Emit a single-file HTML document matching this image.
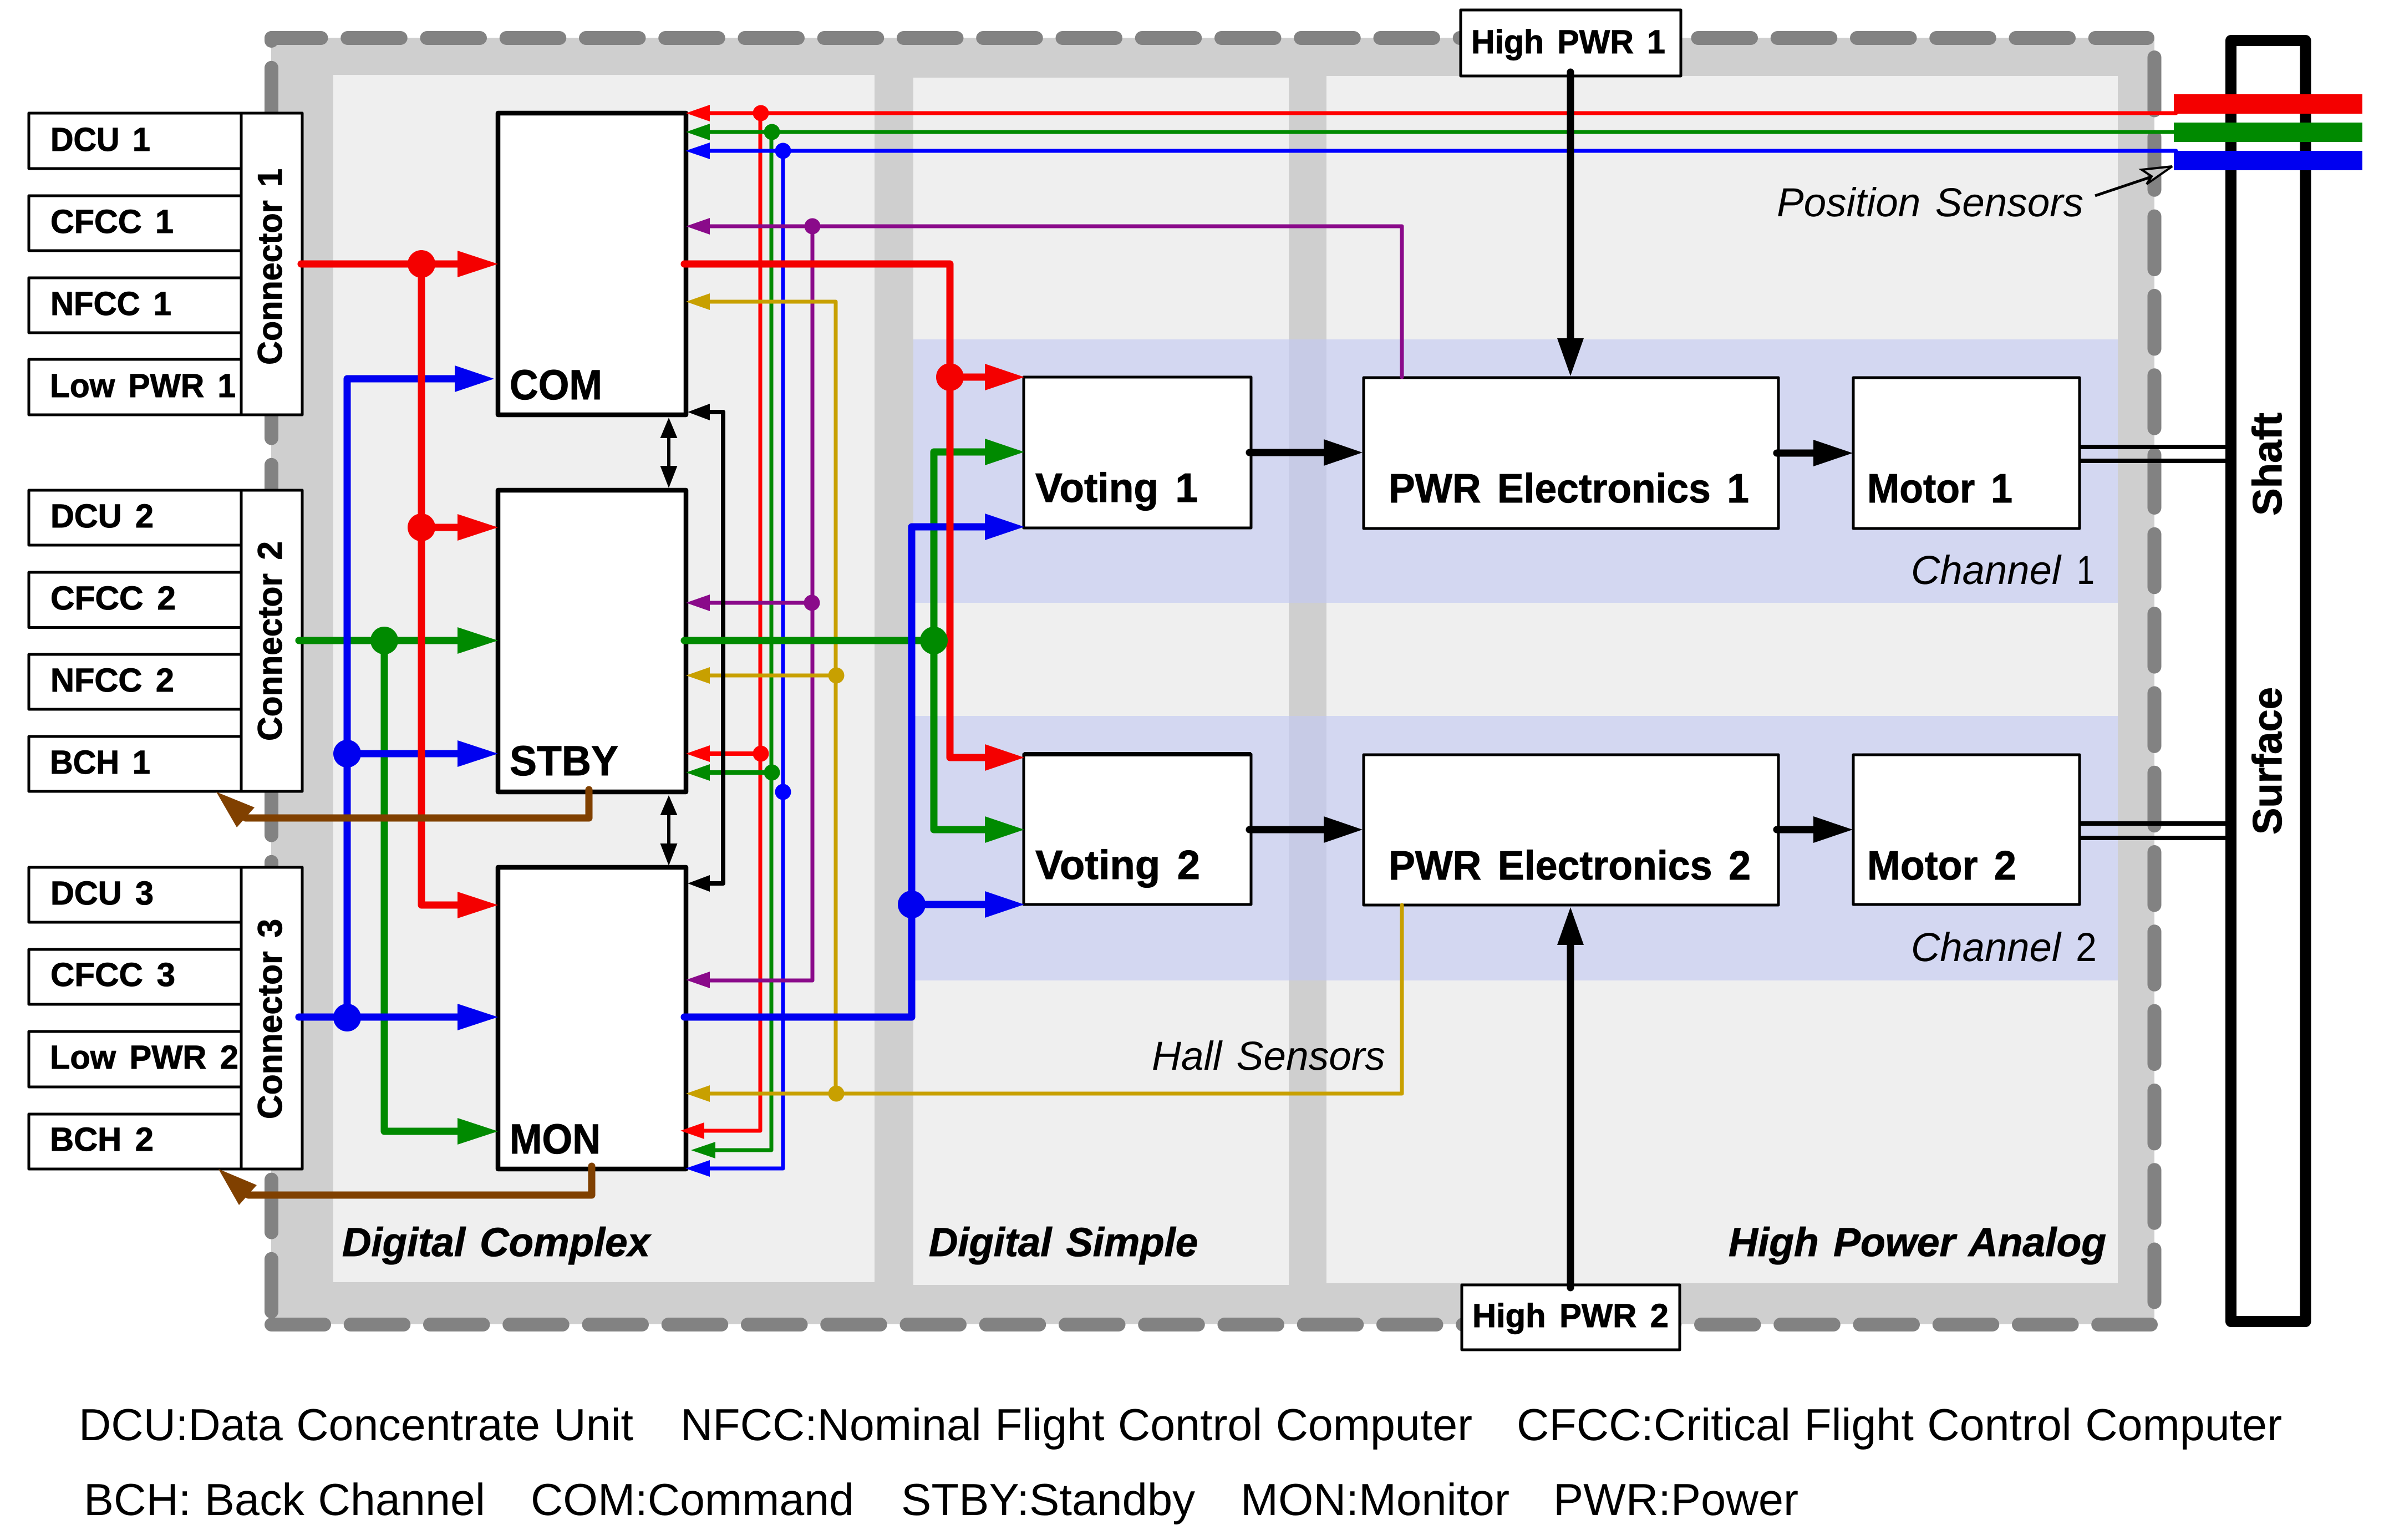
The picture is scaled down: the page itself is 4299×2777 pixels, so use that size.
<!DOCTYPE html>
<html><head><meta charset="utf-8"><title>Flight control actuator diagram</title>
<style>
html,body{margin:0;padding:0;background:#fff}
svg{display:block}
text{font-family:"Liberation Sans",Arial,sans-serif;fill:#000;text-rendering:geometricPrecision}
.b{font-weight:bold;font-size:60px;word-spacing:8px;stroke:#000;stroke-width:1px}
.m{font-weight:bold;font-size:74px;word-spacing:10px;stroke:#000;stroke-width:1px}
.r{font-weight:bold;font-size:62px;word-spacing:8px;stroke:#000;stroke-width:1px}
.i{font-style:italic;font-size:73px;word-spacing:6px}
.u{font-size:73px}
.z{font-style:italic;font-weight:bold;font-size:73px;word-spacing:6px;stroke:#000;stroke-width:1px}
.l{font-size:81px;word-spacing:2px}
</style></head><body>
<svg xmlns="http://www.w3.org/2000/svg" width="4299" height="2777" viewBox="0 0 4299 2777">
<rect width="4299" height="2777" fill="#fff"/>
<!-- backgrounds -->
<rect x="489" y="68" width="3396" height="2320" fill="#cfcfcf"/>
<rect x="601" y="135" width="976" height="2177" fill="#efefef"/>
<rect x="1647" y="140" width="677" height="2177" fill="#efefef"/>
<rect x="2392" y="137" width="1427" height="2177" fill="#efefef"/>
<rect x="1647" y="612" width="2172" height="475" fill="#d3d7f1"/>
<rect x="1647" y="1291" width="2172" height="477" fill="#d3d7f1"/>
<rect x="2324" y="612" width="68" height="475" fill="#c7cbe6"/>
<rect x="2324" y="1291" width="68" height="477" fill="#c7cbe6"/>
<!-- dashed border -->
<g stroke="#828282" stroke-width="25" stroke-linecap="round" fill="none">
<line x1="489.5" y1="68.5" x2="3872.5" y2="68.5" stroke-dasharray="95.5 47.75" stroke-dashoffset="6"/>
<line x1="489.5" y1="2388.5" x2="3878.5" y2="2388.5" stroke-dasharray="95.5 47.75" stroke-dashoffset="0.5"/>
<line x1="489.5" y1="68.5" x2="489.5" y2="73.5"/>
<line x1="489.5" y1="122.3" x2="489.5" y2="2365" stroke-dasharray="95 48.2"/>
<line x1="3885" y1="103.5" x2="3885" y2="2348" stroke-dasharray="95.5 47.8"/>
</g>
<!-- shaft -->
<rect x="4023" y="73" width="134.5" height="2310" fill="#fff" stroke="#000" stroke-width="20" stroke-linejoin="round"/>
<!-- boxes -->
<g fill="#fff" stroke="#000" stroke-width="5" stroke-linejoin="round">
<rect x="52" y="204" width="383" height="100"/><rect x="52" y="353" width="383" height="99"/><rect x="52" y="501" width="383" height="99"/><rect x="52" y="648" width="383" height="100"/>
<rect x="52" y="884" width="383" height="99"/><rect x="52" y="1032" width="383" height="99.5"/><rect x="52" y="1180" width="383" height="99"/><rect x="52" y="1328" width="383" height="99"/>
<rect x="52" y="1564" width="383" height="99"/><rect x="52" y="1712" width="383" height="99"/><rect x="52" y="1860" width="383" height="100"/><rect x="52" y="2009" width="383" height="99"/>
<rect x="435" y="204" width="110" height="544"/><rect x="435" y="884" width="110" height="543"/><rect x="435" y="1564" width="110" height="544"/>
<rect x="1846" y="680" width="410" height="272"/><rect x="1846" y="1360" width="410" height="271"/>
<rect x="2459" y="681" width="748" height="272"/><rect x="2459" y="1361" width="748" height="271"/>
<rect x="3342" y="681" width="408" height="272"/><rect x="3342" y="1361" width="408" height="270"/>
<rect x="2634" y="18" width="397" height="119"/><rect x="2636" y="2317" width="393" height="117"/>
</g>
<g fill="#fff" stroke="#000" stroke-width="8.5" stroke-linejoin="round">
<rect x="898" y="204" width="339" height="544"/><rect x="898" y="884" width="339" height="544"/><rect x="898" y="1564" width="339" height="544"/>
</g>
<line x1="1846" y1="1360" x2="2256" y2="1360" stroke="#000" stroke-width="8"/>
<!-- motor to shaft -->
<g stroke="#000" stroke-width="8" fill="none">
<line x1="3750" y1="806" x2="4013" y2="806"/>
<line x1="3750" y1="831" x2="4013" y2="831"/>
<line x1="3750" y1="1485" x2="4013" y2="1485"/>
<line x1="3750" y1="1511" x2="4013" y2="1511"/>
</g>
<!-- thin lines -->
<g fill="none" stroke-width="7" stroke-linejoin="round" stroke-linecap="round">
<path d="M1270 2039H1371V204M1280 204H3924" stroke="#ff0000"/>
<path d="M1290 2074H1391V238M1280 238H3924" stroke="#008a00"/>
<path d="M1280 2107H1412V272M1280 272H3924" stroke="#0000ff"/>
<path d="M1280 408H2528V680M1465 408V1768H1280M1280 1087H1465" stroke="#8a0a8a"/>
<path d="M1280 544H1507V1972M1280 1218H1507M1280 1972H2528V1632" stroke="#c8a000"/>
<path d="M1280 1359H1371" stroke-width="8" stroke="#ff0000"/>
<path d="M1280 1393H1391" stroke-width="8" stroke="#008a00"/>
<path d="M1280 743H1304V1593H1280" stroke="#000" stroke-width="8"/>
<path d="M1206 785V845M1206 1465V1525" stroke="#000" stroke-width="6"/>
</g>
<!-- left arrowheads -->
<g fill="#ff0000"><polygon points="1237,204 1280,189 1280,219"/><polygon points="1237,1359 1280,1344 1280,1374"/><polygon points="1227,2039 1270,2024 1270,2054"/></g>
<g fill="#008a00"><polygon points="1237,238 1280,223 1280,253"/><polygon points="1237,1393 1280,1378 1280,1408"/><polygon points="1246,2074 1290,2059 1290,2089"/></g>
<g fill="#0000ff"><polygon points="1236,272 1280,257 1280,287"/><polygon points="1236,2107 1280,2092 1280,2122"/></g>
<g fill="#8a0a8a"><polygon points="1237,408 1280,393 1280,423"/><polygon points="1237,1087 1280,1072 1280,1102"/><polygon points="1237,1767 1280,1752 1280,1782"/></g>
<g fill="#c8a000"><polygon points="1237,544 1280,529 1280,559"/><polygon points="1237,1218 1280,1203 1280,1233"/><polygon points="1237,1972 1280,1957 1280,1987"/></g>
<g fill="#000"><polygon points="1240,743 1280,728 1280,758"/><polygon points="1240,1593 1280,1578 1280,1608"/>
<polygon points="1206,753 1190.5,790 1221.5,790"/><polygon points="1206,880 1190.5,840 1221.5,840"/>
<polygon points="1206,1434 1190.5,1470 1221.5,1470"/><polygon points="1206,1561 1190.5,1521 1221.5,1521"/></g>
<!-- dots -->
<g fill="#ff0000"><circle cx="1372" cy="204" r="14.5"/><circle cx="1372" cy="1359" r="14.5"/></g>
<g fill="#008a00"><circle cx="1392" cy="238" r="14.5"/><circle cx="1392" cy="1393" r="14.5"/></g>
<g fill="#0000ff"><circle cx="1412" cy="272" r="14.5"/><circle cx="1412" cy="1428" r="14.5"/></g>
<g fill="#8a0a8a"><circle cx="1465" cy="408" r="14.5"/><circle cx="1464" cy="1087" r="14.5"/></g>
<g fill="#c8a000"><circle cx="1508" cy="1218" r="14.5"/><circle cx="1508" cy="1972" r="14.5"/></g>
<!-- thick lines -->
<g fill="none" stroke-width="13" stroke-linejoin="round" stroke-linecap="round">
<path d="M539 1155H830M693 1155V2040H830" stroke="#008a00"/>
<path d="M1234 1155H1684M1684 815V1496M1684 815H1780M1684 1496H1780" stroke="#008a00"/>
<path d="M1234 1834H1644V950H1780M1644 1631H1780" stroke="#0000f0"/>
<path d="M830 683H626V1834M626 1359H830M539 1834H830" stroke="#0000f0"/>
<path d="M543 476H830M760 476V1632H830M760 951H830" stroke="#f40000"/>
<path d="M1234 476H1713V1366H1780M1713 680H1780" stroke="#f40000"/>
<path d="M1062 1424V1475H443" stroke="#804000"/>
<path d="M1067 2103V2155H448" stroke="#804000"/>
<path d="M2253 816H2395M2253 1496H2395M3204 817H3275M3204 1496H3275" stroke="#000"/>
<path d="M2832 130V615M2832 1700V2322" stroke="#000"/>
</g>
<!-- thick arrowheads -->
<g fill="#f40000"><polygon points="898,476 825,452 825,500"/><polygon points="898,951 825,927 825,975"/><polygon points="898,1632 825,1608 825,1656"/><polygon points="1847,680 1776,656 1776,704"/><polygon points="1847,1366 1776,1342 1776,1390"/>
<circle cx="760" cy="476" r="25"/><circle cx="760" cy="951" r="25"/><circle cx="1713" cy="680" r="25"/></g>
<g fill="#0000f0"><polygon points="891,683 820,659 820,707"/><polygon points="898,1359 825,1335 825,1383"/><polygon points="898,1834 825,1810 825,1858"/><polygon points="1847,950 1776,926 1776,974"/><polygon points="1847,1631 1776,1607 1776,1655"/>
<circle cx="626" cy="1359" r="25"/><circle cx="626" cy="1835" r="25"/><circle cx="1644" cy="1631" r="25"/></g>
<g fill="#008a00"><polygon points="898,1155 825,1131 825,1179"/><polygon points="898,2040 825,2016 825,2064"/><polygon points="1847,815 1776,791 1776,839"/><polygon points="1847,1496 1776,1472 1776,1520"/>
<circle cx="693" cy="1155" r="25"/><circle cx="1684" cy="1155" r="25"/></g>
<g fill="#804000"><polygon points="390,1428 459,1456 427,1492"/><polygon points="394,2108 463,2137 431,2173"/></g>
<g fill="#000"><polygon points="2457,816 2387,792 2387,840"/><polygon points="2457,1496 2387,1472 2387,1520"/><polygon points="3341,817 3270,793 3270,841"/><polygon points="3341,1496 3270,1472 3270,1520"/>
<polygon points="2832,678 2808,610 2856,610"/><polygon points="2832,1636 2808,1704 2856,1704"/></g>
<!-- position sensor bars -->
<rect x="3920" y="170" width="340" height="35" fill="#f40000"/>
<rect x="3920" y="221" width="340" height="35" fill="#008a00"/>
<rect x="3920" y="272" width="340" height="35" fill="#0000f0"/>
<!-- position arrow -->
<line x1="3778" y1="353" x2="3885" y2="317" stroke="#000" stroke-width="5"/>
<polygon points="3917,300 3862,306 3880,318 3871,332" fill="#c8c8c8" stroke="#000" stroke-width="4"/>
<!-- text -->
<text class="b" x="91" y="272" textLength="180" lengthAdjust="spacingAndGlyphs">DCU 1</text>
<text class="b" x="91" y="420" textLength="222" lengthAdjust="spacingAndGlyphs">CFCC 1</text>
<text class="b" x="91" y="568" textLength="218" lengthAdjust="spacingAndGlyphs">NFCC 1</text>
<text class="b" x="90" y="716" textLength="335" lengthAdjust="spacingAndGlyphs">Low PWR 1</text>
<text class="b" x="91" y="951" textLength="186" lengthAdjust="spacingAndGlyphs">DCU 2</text>
<text class="b" x="91" y="1099" textLength="226" lengthAdjust="spacingAndGlyphs">CFCC 2</text>
<text class="b" x="91" y="1247" textLength="223" lengthAdjust="spacingAndGlyphs">NFCC 2</text>
<text class="b" x="90" y="1395" textLength="181" lengthAdjust="spacingAndGlyphs">BCH 1</text>
<text class="b" x="91" y="1631" textLength="186" lengthAdjust="spacingAndGlyphs">DCU 3</text>
<text class="b" x="91" y="1778" textLength="225" lengthAdjust="spacingAndGlyphs">CFCC 3</text>
<text class="b" x="90" y="1927" textLength="340" lengthAdjust="spacingAndGlyphs">Low PWR 2</text>
<text class="b" x="90" y="2075" textLength="187" lengthAdjust="spacingAndGlyphs">BCH 2</text>
<text class="r" transform="translate(508,658) rotate(-90)" textLength="354" lengthAdjust="spacingAndGlyphs">Connector 1</text>
<text class="r" transform="translate(508,1336) rotate(-90)" textLength="360" lengthAdjust="spacingAndGlyphs">Connector 2</text>
<text class="r" transform="translate(508,2018) rotate(-90)" textLength="361" lengthAdjust="spacingAndGlyphs">Connector 3</text>
<text class="m" x="919" y="720" style="font-size:76px" textLength="167" lengthAdjust="spacingAndGlyphs">COM</text>
<text class="m" x="919" y="1398" style="font-size:76px" textLength="196" lengthAdjust="spacingAndGlyphs">STBY</text>
<text class="m" x="919" y="2080" style="font-size:76px" textLength="164" lengthAdjust="spacingAndGlyphs">MON</text>
<text class="m" x="1867" y="905" textLength="293" lengthAdjust="spacingAndGlyphs">Voting 1</text>
<text class="m" x="1867" y="1585" textLength="297" lengthAdjust="spacingAndGlyphs">Voting 2</text>
<text class="m" x="2504" y="906" textLength="650" lengthAdjust="spacingAndGlyphs">PWR Electronics 1</text>
<text class="m" x="2504" y="1586" textLength="653" lengthAdjust="spacingAndGlyphs">PWR Electronics 2</text>
<text class="m" x="3367" y="906" textLength="262" lengthAdjust="spacingAndGlyphs">Motor 1</text>
<text class="m" x="3367" y="1586" textLength="269" lengthAdjust="spacingAndGlyphs">Motor 2</text>
<text class="b" x="2653" y="96" textLength="350" lengthAdjust="spacingAndGlyphs">High PWR 1</text>
<text class="b" x="2655" y="2393" textLength="354" lengthAdjust="spacingAndGlyphs">High PWR 2</text>
<text class="i" x="3204" y="390" textLength="553" lengthAdjust="spacingAndGlyphs">Position Sensors</text>
<text class="i" x="2077" y="1929" textLength="421" lengthAdjust="spacingAndGlyphs">Hall Sensors</text>
<text class="i" x="3446" y="1053" textLength="270" lengthAdjust="spacingAndGlyphs">Channel</text>
<text class="u" x="3745" y="1053" textLength="32" lengthAdjust="spacingAndGlyphs">1</text>
<text class="i" x="3446" y="1733" textLength="270" lengthAdjust="spacingAndGlyphs">Channel</text>
<text class="u" x="3743" y="1733" textLength="38" lengthAdjust="spacingAndGlyphs">2</text>
<text class="z" x="617" y="2265" textLength="555" lengthAdjust="spacingAndGlyphs">Digital Complex</text>
<text class="z" x="1675" y="2265" textLength="485" lengthAdjust="spacingAndGlyphs">Digital Simple</text>
<text class="z" x="3117" y="2265" textLength="681" lengthAdjust="spacingAndGlyphs">High Power Analog</text>
<text class="m" style="font-size:74px" transform="translate(4114,930) rotate(-90)" textLength="186" lengthAdjust="spacingAndGlyphs">Shaft</text>
<text class="m" style="font-size:74px" transform="translate(4114,1505) rotate(-90)" textLength="266" lengthAdjust="spacingAndGlyphs">Surface</text>
<text class="l" x="142" y="2597" textLength="1000" lengthAdjust="spacingAndGlyphs">DCU:Data Concentrate Unit</text>
<text class="l" x="1227" y="2597" textLength="1428" lengthAdjust="spacingAndGlyphs">NFCC:Nominal Flight Control Computer</text>
<text class="l" x="2735" y="2597" textLength="1380" lengthAdjust="spacingAndGlyphs">CFCC:Critical Flight Control Computer</text>
<text class="l" x="151" y="2732" textLength="724" lengthAdjust="spacingAndGlyphs">BCH: Back Channel</text>
<text class="l" x="957" y="2732" textLength="583" lengthAdjust="spacingAndGlyphs">COM:Command</text>
<text class="l" x="1625" y="2732" textLength="530" lengthAdjust="spacingAndGlyphs">STBY:Standby</text>
<text class="l" x="2237" y="2732" textLength="485" lengthAdjust="spacingAndGlyphs">MON:Monitor</text>
<text class="l" x="2801" y="2732" textLength="442" lengthAdjust="spacingAndGlyphs">PWR:Power</text>
</svg>
</body></html>
